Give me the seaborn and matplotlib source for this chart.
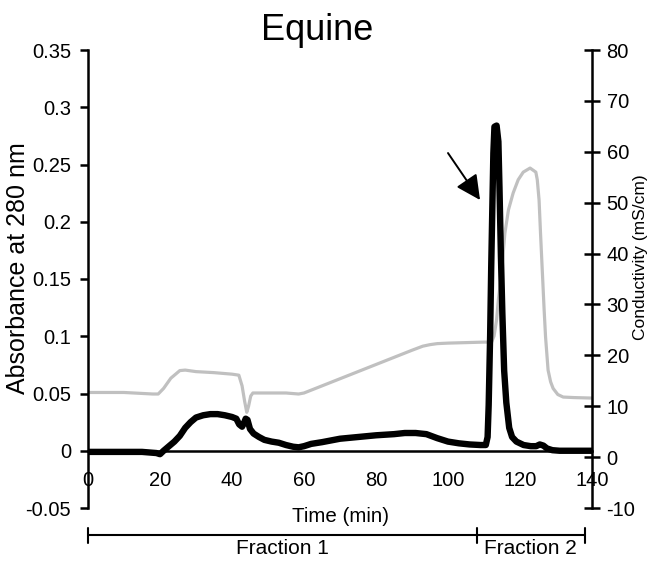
import numpy as np
import pandas as pd
import matplotlib
matplotlib.use("Agg")
import matplotlib.pyplot as plt
import matplotlib.transforms as mtransforms
import seaborn as sns

# ---------------- data ----------------
abs_time = [0, 5, 10, 15, 19, 20, 21, 22.5, 24, 25.5, 27, 28.5, 30, 32, 34, 36, 38, 40,
            41.2, 42, 42.8, 43.3, 43.8, 44.3, 45, 46, 47.5, 49, 51, 53, 55, 57, 58.5, 60,
            62, 65, 70, 75, 80, 85, 88, 91, 94, 97, 100, 103, 106, 109, 110.5, 111.0,
            111.3, 111.7, 112.0, 112.3, 112.6, 112.9, 113.5, 114.0, 114.3, 114.7, 115.1,
            115.6, 116.2, 117.0, 117.8, 119, 121, 123, 124.5, 125.5, 126.5, 127.5, 129,
            131, 140]
absorbance = [-0.001, -0.001, -0.001, -0.001, -0.002, -0.003, 0.0, 0.004, 0.008, 0.013,
              0.02, 0.025, 0.029, 0.031, 0.032, 0.032, 0.031, 0.0295, 0.028, 0.023, 0.021,
              0.024, 0.028, 0.027, 0.019, 0.015, 0.012, 0.0095, 0.008, 0.007, 0.005, 0.0035,
              0.003, 0.004, 0.006, 0.0075, 0.0105, 0.012, 0.0135, 0.0145, 0.0155, 0.0155,
              0.0145, 0.011, 0.008, 0.0065, 0.0055, 0.005, 0.005, 0.012, 0.04, 0.10, 0.16,
              0.21, 0.26, 0.283, 0.284, 0.27, 0.23, 0.17, 0.12, 0.07, 0.042, 0.02, 0.012,
              0.008, 0.005, 0.004, 0.004, 0.0055, 0.0045, 0.002, 0.0005, 0.0, 0.0]

cond_time = [0, 10, 18, 19.5, 21, 23, 25.5, 27, 30, 35, 40, 41.9, 42.8, 43.5, 44.1, 44.6,
             45.2, 45.8, 50, 55, 58.5, 60, 65, 70, 75, 80, 85, 90, 93, 95, 97, 100, 105,
             110, 112.1, 112.8, 113.5, 114.0, 114.7, 115.4, 115.8, 116.8, 118.1, 119.5,
             120.9, 122.8, 124.4, 124.8, 125.3, 125.7, 126.3, 126.7, 127.1, 127.8,
             128.5, 129.2, 130.5, 132, 135, 140]
conductivity = [12.7, 12.7, 12.4, 12.4, 13.5, 15.5, 17.0, 17.1, 16.8, 16.6, 16.3, 16.1,
                14.0, 11.0, 8.8, 10.0, 12.0, 12.6, 12.6, 12.6, 12.4, 12.6, 14.0, 15.4, 16.8,
                18.2, 19.6, 21.0, 21.8, 22.1, 22.3, 22.4, 22.5, 22.6, 22.6, 23.8, 27, 31,
                35.0, 40.7, 44.0, 48.6, 51.9, 54.5, 56.0, 56.8, 56.0, 54.5, 50.5, 44.0,
                35.0, 29.0, 23.6, 17.1, 14.8, 13.5, 12.3, 11.8, 11.7, 11.6]

x_ticks = [0, 20, 40, 60, 80, 100, 120, 140]
x_tick_labels = ["0", "20", "40", "60", "80", "100", "120", "140"]
left_ticks = [-0.05, 0, 0.05, 0.1, 0.15, 0.2, 0.25, 0.3, 0.35]
left_tick_labels = ["-0.05", "0", "0.05", "0.1", "0.15", "0.2", "0.25", "0.3", "0.35"]
right_ticks = [-10, 0, 10, 20, 30, 40, 50, 60, 70, 80]
right_tick_labels = ["-10", "0", "10", "20", "30", "40", "50", "60", "70", "80"]

fraction_bounds = [0, 108, 138]
fraction_labels = ["Fraction 1", "Fraction 2"]

arrow_tail = (100, 0.26)
arrow_tip = (108.9, 0.219)

# ---------------- style ----------------
sns.set_style("white")
plt.rcParams["font.family"] = ["Liberation Sans", "DejaVu Sans"]
plt.rcParams["text.color"] = "black"
plt.rcParams["axes.labelcolor"] = "black"
plt.rcParams["xtick.color"] = "black"
plt.rcParams["ytick.color"] = "black"

W, H = 651, 562
fig = plt.figure(figsize=(W / 100, H / 100), dpi=100)
ax = fig.add_axes([88 / W, 1 - 508 / H, 504 / W, 458 / H])
ax2 = ax.twinx()

df_abs = pd.DataFrame({"Time": abs_time, "Absorbance": absorbance})
df_cond = pd.DataFrame({"Time": cond_time, "Conductivity": conductivity})

sns.lineplot(data=df_cond, x="Time", y="Conductivity", ax=ax2, color="#c0c0c0",
             lw=2.3, sort=False, estimator=None)
sns.lineplot(data=df_abs, x="Time", y="Absorbance", ax=ax, color="black",
             lw=4.6, sort=False, estimator=None, solid_joinstyle="round")

ax.set_zorder(ax2.get_zorder() + 1)
ax.patch.set_visible(False)

ax.set_xlim(0, 140)
ax.set_ylim(-0.05, 0.35)
ax2.set_ylim(-10, 80)

ax.set_xticks(x_ticks)
ax.set_xticklabels(x_tick_labels)
ax.set_yticks(left_ticks)
ax.set_yticklabels(left_tick_labels)
ax2.set_yticks(right_ticks)
ax2.set_yticklabels(right_tick_labels)

for s in ["top", "right"]:
    ax.spines[s].set_visible(False)
ax.spines["bottom"].set_position(("data", 0))
for s in ["top", "left", "bottom"]:
    ax2.spines[s].set_visible(False)
for s in ["left", "bottom"]:
    ax.spines[s].set_linewidth(1.8)
    ax.spines[s].set_color("black")
ax2.spines["right"].set_linewidth(1.8)
ax2.spines["right"].set_color("black")

tick_fs = 14.5
ax.tick_params(axis="x", direction="out", length=5.8, width=1.8, pad=9, labelsize=tick_fs)
ax.tick_params(axis="y", direction="out", length=5.8, width=1.8, pad=6.5, labelsize=tick_fs)
ax2.tick_params(axis="y", direction="inout", length=11, width=1.8, pad=5, labelsize=tick_fs)
ax2.tick_params(axis="x", bottom=False, labelbottom=False)

ax.set_xlabel("Time (min)", fontsize=14.8)
ax.xaxis.set_label_coords(0.5, (508 - 517) / 458)
ax.xaxis.label.set_verticalalignment("center")

ax.set_ylabel("Absorbance at 280 nm", fontsize=18)
ax.yaxis.set_label_coords((18 - 88) / 504, (508 - 268) / 458)
ax.yaxis.label.set_verticalalignment("center")

ax2.set_ylabel("Conductivity (mS/cm)", fontsize=12.5)
ax2.yaxis.set_label_coords((641 - 88) / 504, (508 - 257) / 458)
ax2.yaxis.label.set_verticalalignment("center")

ax.set_title("Equine", fontsize=26, x=(317 - 88) / 504, pad=7)

# arrow
ax.annotate("", xy=arrow_tip, xytext=arrow_tail,
            arrowprops=dict(arrowstyle="-|>,head_length=1.0,head_width=0.5",
                            color="black", lw=1.4, shrinkA=0, shrinkB=0,
                            mutation_scale=15))

# fraction bracket
trans = mtransforms.blended_transform_factory(ax.transData, ax.transAxes)
y_line = (508 - 535) / 458
y_t0 = (508 - 528) / 458
y_t1 = (508 - 543) / 458
ax.plot([fraction_bounds[0], fraction_bounds[-1]], [y_line, y_line], transform=trans,
        color="black", lw=1.5, clip_on=False)
for b in fraction_bounds:
    ax.plot([b, b], [y_t0, y_t1], transform=trans, color="black", lw=1.5, clip_on=False)
y_lab = (508 - 548) / 458
for i, lab in enumerate(fraction_labels):
    xc = (fraction_bounds[i] + fraction_bounds[i + 1]) / 2
    ax.text(xc, y_lab, lab, transform=trans, ha="center", va="center", fontsize=15)

fig.savefig("out.png", dpi=100)
